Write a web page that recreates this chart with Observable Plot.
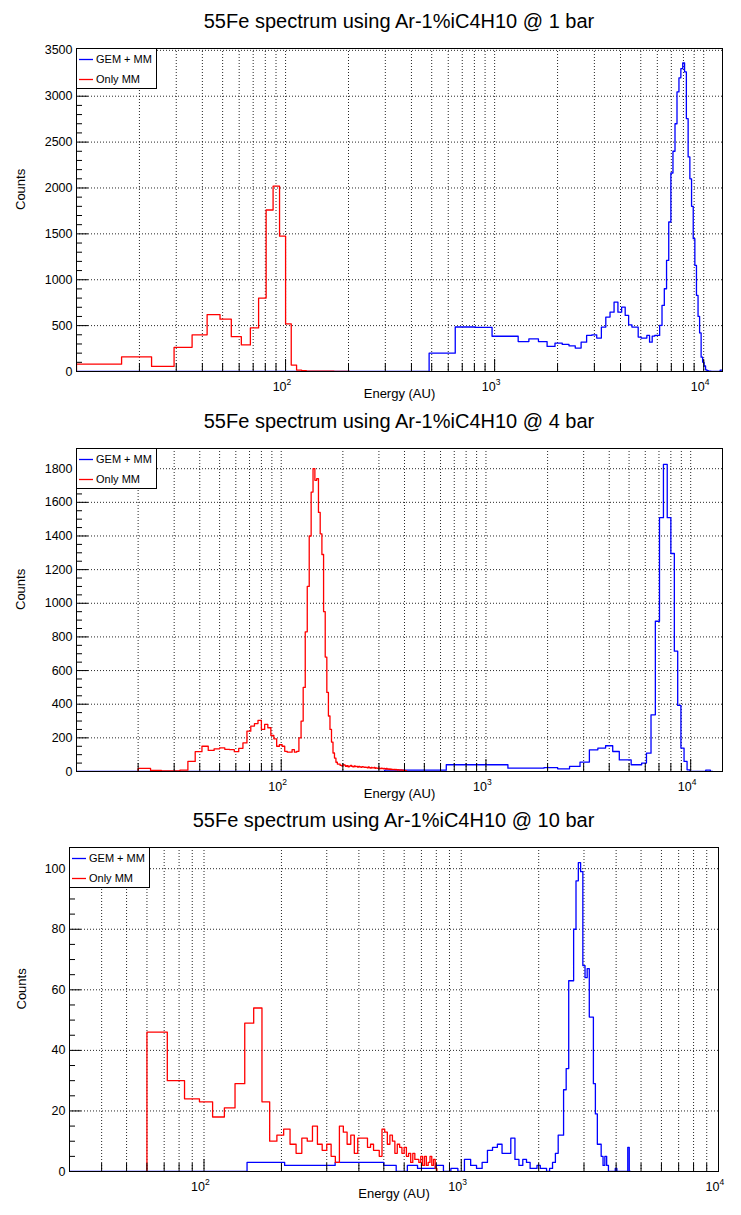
<!DOCTYPE html>
<html>
<head>
<meta charset="utf-8">
<title>55Fe spectra in Ar-1%iC4H10</title>
<script src="https://cdn.jsdelivr.net/npm/d3@7"></script>
<script src="https://cdn.jsdelivr.net/npm/@observablehq/plot@0.6"></script>
<style>
  html, body { margin: 0; padding: 0; background: #fff; }
  #page { position: relative; width: 741px; height: 1215px; overflow: hidden; background: #fff;
          font-family: "Liberation Sans", Arial, Helvetica, sans-serif; color: #000; }
  .title { position: absolute; font-size: 20px; line-height: 20px; text-align: center; white-space: nowrap; }
  .plot { position: absolute; left: 0; }
  .legend { position: absolute; z-index: 2; display: block; }
</style>
</head>
<body>
<div id="page"></div>
<script>
// ---- shared text ----
const seriesNames = ["GEM + MM", "Only MM"];
const xLabel = "Energy (AU)";
const yLabel = "Counts";
const decadeTicks = [100, 1000, 10000];
const decadeExponents = ["2", "3", "4"];

// ---- 1 bar ----
const bar1Title = "55Fe spectrum using Ar-1%iC4H10 @ 1 bar";
const bar1XRange = [10, 12300];
const bar1YRange = [0, 3520];
const bar1YTicks = [0, 500, 1000, 1500, 2000, 2500, 3000, 3500];
const bar1YMinorStep = 100;
const bar1GemStart = 0;
const bar1GemWidth = 162;
const bar1GemCounts = [
  0, 0, 0, 200, 485, 480, 384, 384, 326, 355,
  326, 273, 309, 295, 280, 255, 320, 393, 400, 364,
  484, 593, 647, 756, 647, 702, 611, 509, 484, 484,
  375, 364, 364, 393, 320, 385, 393, 393, 502, 720,
  902, 1211, 1629, 2163, 2400, 2700, 3047, 3200, 3300, 3363,
  3265, 2756, 2338, 2100, 1800, 1447, 1156, 829, 600, 420,
  156, 102, 60, 18, 8, 5, 3, 2, 0, 0,
  0, 0, 0, 0, 15, 15
];
const bar1MmStart = 10;
const bar1MmWidth = 6.43;
const bar1MmCounts = [
  80, 160, 55, 263, 400, 620, 570, 380, 290, 475,
  800, 1760, 2020, 1475, 520, 70, 15, 8, 5, 5,
  4, 4, 3, 3, 3, 2, 2, 2, 2, 1
];

// ---- 4 bar ----
const bar4Title = "55Fe spectrum using Ar-1%iC4H10 @ 4 bar";
const bar4XRange = [10, 14300];
const bar4YRange = [0, 1920];
const bar4YTicks = [0, 200, 400, 600, 800, 1000, 1200, 1400, 1600, 1800];
const bar4YMinorStep = 50;
const bar4GemStart = 0;
const bar4GemWidth = 320;
const bar4GemCounts = [
  0, 8, 40, 40, 20, 20, 23, 16, 30, 56,
  129, 139, 153, 119, 69, 69, 40, 40, 50, 109,
  337, 893, 1509, 1826, 1509, 1296, 715, 393, 139, 60,
  10, 0, 0, 0, 0, 0, 0, 8, 8, 0
];
const bar4MmStart = 20;
const bar4MmWidth = 3;
const bar4MmCounts = [
  18, 6, 3, 3, 8, 60, 118, 150, 125, 135,
  140, 132, 130, 118, 138, 170, 240, 270, 285, 304,
  250, 280, 260, 214, 194, 150, 160, 150, 120, 115,
  115, 130, 115, 120, 200, 300, 500, 830, 1100, 1400,
  1661, 1800, 1731, 1741, 1540, 1413, 1290, 950, 680, 470,
  330, 250, 175, 110, 80, 55, 44, 44, 36, 34,
  40, 38, 30, 35, 28, 32, 36, 30, 27, 33,
  29, 31, 26, 30, 28, 25, 29, 27, 24, 26,
  25, 22, 27, 23, 20, 24, 22, 21, 25, 19,
  22, 20, 18, 21, 19, 17, 20, 18, 16, 19,
  17, 15, 18, 14, 16, 13, 15, 12, 14, 12,
  13, 11, 12, 10, 12, 11, 9, 11, 10, 9,
  10, 8, 9, 8, 7, 8, 6, 7, 5, 4
];

// ---- 10 bar ----
const bar10Title = "55Fe spectrum using Ar-1%iC4H10 @ 10 bar";
const bar10XRange = [30, 10000];
const bar10YRange = [0, 107];
const bar10YTicks = [0, 20, 40, 60, 80, 100];
const bar10YMinorStep = 5;
const bar10GemStart = 29.4;
const bar10GemWidth = 58.8;
const bar10GemCounts = [
  0, 0, 3, 2, 2, 3, 3, 3, 2, 0,
  2, 1, 1, 2, 0, 1, 0, 4, 2, 1,
  3, 7, 8, 9, 6, 6, 11, 4, 2, 4,
  3, 1, 1, 2, 1, 1, 0, 1, 3, 6,
  12, 12, 27, 34, 63, 63, 80, 96, 102, 99,
  68, 64, 67, 51, 51, 29, 19, 9, 9, 5,
  2, 5, 2, 0, 0, 0, 0, 1, 0, 0,
  0, 0, 0, 0, 0, 8, 0
];
const bar10MmStart = 60;
const bar10MmWidth = 12;
const bar10MmCounts = [
  46, 30, 24, 23, 18, 21, 29, 49, 54, 23,
  10, 12, 14, 9, 6, 11, 10, 15, 9, 7,
  9, 5, 3, 15, 13, 9, 12, 6, 11, 11,
  11, 8, 9, 7, 7, 5, 14, 13, 9, 12,
  10, 6, 9, 8, 6, 8, 5, 6, 3, 6,
  4, 4, 3, 5, 2, 5, 2, 3, 5, 2,
  4, 1
];

// ---- drawing ----
const PAGE_W = 741;
const FONT = "'Liberation Sans', Arial, Helvetica, sans-serif";
const COLORS = ["#0000ff", "#ff0000"];

// Outline of a fixed-width histogram as step points, edges kept inside the axis range.
function histOutline(start, width, counts, [lo, hi]) {
  const edge = k => Math.min(hi, Math.max(lo, start + k * width));
  const n = counts.length;
  const pts = [{x: edge(0), y: 0}];
  counts.forEach((c, k) => pts.push({x: edge(k), y: c}));
  pts.push({x: edge(n), y: counts[n - 1]}, {x: edge(n), y: 0});
  return pts;
}

// 1..9 x 10^n positions inside a log range
function logTicks([lo, hi]) {
  const out = [];
  for (let e = Math.floor(Math.log10(lo)); e <= Math.ceil(Math.log10(hi)); e++) {
    for (let m = 1; m <= 9; m++) {
      const v = m * Math.pow(10, e);
      if (v >= lo * 0.9999 && v <= hi * 1.0001) out.push(v);
    }
  }
  return out;
}
const isDecade = v => Math.abs(Math.log10(v) - Math.round(Math.log10(v))) < 1e-9;

// Small boxed legend: a line sample and a name per series
function legendBox(left, top) {
  const w = 81, h = 41;
  const svg = d3.create("svg")
    .attr("class", "legend")
    .attr("width", w).attr("height", h)
    .style("left", left + "px").style("top", top + "px");
  svg.append("rect")
    .attr("x", 0.5).attr("y", 0.5).attr("width", w - 1).attr("height", h - 1)
    .attr("fill", "#fff").attr("stroke", "#000").attr("stroke-width", 1);
  seriesNames.forEach((name, i) => {
    const cy = 11.5 + i * 20;
    svg.append("line")
      .attr("x1", 3).attr("x2", 17).attr("y1", cy).attr("y2", cy)
      .attr("stroke", COLORS[i]).attr("stroke-width", 1.3);
    svg.append("text")
      .attr("x", 20).attr("y", cy + 3.8)
      .attr("font-family", FONT).attr("font-size", 11).attr("fill", "#000")
      .text(name);
  });
  return svg.node();
}

function drawPanel(p) {
  const page = document.getElementById("page");
  const [mt, mr, mb, ml] = p.margins;
  const frameW = PAGE_W - ml - mr;
  const frameH = p.height - mt - mb;
  const [lo, hi] = p.xRange;

  const xt = logTicks(p.xRange);
  const xGrid = xt.filter(v => v > lo * 1.0001 && v < hi * 0.9999);
  const xMajor = xt.filter(isDecade);
  const xMinor = xt.filter(v => !isDecade(v));
  const xLabels = decadeTicks
    .map((v, i) => ({v, e: decadeExponents[i]}))
    .filter(d => d.v >= lo * 0.9999 && d.v <= hi * 1.0001);
  const yMinor = d3.range(p.yRange[0], p.yRange[1], p.yMinorStep).filter(v => !p.yTicks.includes(v));
  const yGrid = p.yTicks.filter(v => v > p.yRange[0]);

  const gem = histOutline(p.gem.start, p.gem.width, p.gem.counts, p.xRange);
  const mm = histOutline(p.mm.start, p.mm.width, p.mm.counts, p.xRange);

  const dotted = {stroke: "#000", strokeWidth: 1, strokeDasharray: "1,2", strokeOpacity: 0.85};

  const chart = Plot.plot({
    width: PAGE_W,
    height: p.height,
    marginTop: mt, marginRight: mr, marginBottom: mb, marginLeft: ml,
    style: {fontFamily: FONT, background: "#fff", color: "#000", overflow: "visible"},
    x: {type: "log", domain: p.xRange, axis: null},
    y: {domain: p.yRange, axis: null},
    marks: [
      Plot.ruleX(xGrid, {x: d => d, ...dotted}),
      Plot.ruleY(yGrid, {y: d => d, ...dotted}),
      Plot.line(gem, {x: "x", y: "y", curve: "step-after", stroke: COLORS[0], strokeWidth: 1.3, clip: true}),
      Plot.line(mm, {x: "x", y: "y", curve: "step-after", stroke: COLORS[1], strokeWidth: 1.3, clip: true}),
      Plot.tickX(xMajor, {x: d => d, insetTop: frameH - 12, stroke: "#000"}),
      Plot.tickX(xMinor, {x: d => d, insetTop: frameH - 8, stroke: "#000"}),
      Plot.tickY(p.yTicks, {y: d => d, insetRight: frameW - 12, stroke: "#000"}),
      Plot.tickY(yMinor, {y: d => d, insetRight: frameW - 6, stroke: "#000"}),
      Plot.frame({stroke: "#000", strokeWidth: 1}),
      Plot.text(p.yTicks, {y: d => d, text: d => String(d), frameAnchor: "left", textAnchor: "end",
                           dx: -4, fontSize: 12.5, fill: "#000"}),
      Plot.text(xLabels, {x: "v", text: () => "10", frameAnchor: "bottom", textAnchor: "end",
                          lineAnchor: "bottom", dx: 1, dy: 19, fontSize: 12.5, fill: "#000"}),
      Plot.text(xLabels, {x: "v", text: "e", frameAnchor: "bottom", textAnchor: "start",
                          lineAnchor: "bottom", dx: 1, dy: 13, fontSize: 8.5, fill: "#000"}),
      Plot.text([xLabel], {text: d => d, frameAnchor: "bottom", lineAnchor: "bottom",
                           dy: 26, fontSize: 13, fill: "#000"}),
      Plot.text([yLabel], {text: d => d, frameAnchor: "left", lineAnchor: "bottom", rotate: -90,
                           dx: p.yLabelX - ml, fontSize: 13, fill: "#000"})
    ]
  });
  chart.classList.add("plot");
  chart.style.top = p.top + "px";
  page.append(chart);

  // title, centred over the frame
  const title = document.createElement("div");
  title.className = "title";
  title.textContent = p.title;
  Object.assign(title.style, {left: ml + "px", width: frameW + "px", top: (p.titleBaseline - 17) + "px"});
  page.append(title);

  // legend in the top-left corner of the frame
  page.append(legendBox(ml, p.top + mt));
}

drawPanel({
  title: bar1Title, titleBaseline: 28, top: 30, height: 375, margins: [18, 19, 34, 76], yLabelX: 24,
  xRange: bar1XRange, yRange: bar1YRange, yTicks: bar1YTicks, yMinorStep: bar1YMinorStep,
  gem: {start: bar1GemStart, width: bar1GemWidth, counts: bar1GemCounts},
  mm: {start: bar1MmStart, width: bar1MmWidth, counts: bar1MmCounts}
});
drawPanel({
  title: bar4Title, titleBaseline: 428, top: 435, height: 370, margins: [13, 19, 34, 76], yLabelX: 24,
  xRange: bar4XRange, yRange: bar4YRange, yTicks: bar4YTicks, yMinorStep: bar4YMinorStep,
  gem: {start: bar4GemStart, width: bar4GemWidth, counts: bar4GemCounts},
  mm: {start: bar4MmStart, width: bar4MmWidth, counts: bar4MmCounts}
});
drawPanel({
  title: bar10Title, titleBaseline: 827, top: 835, height: 375, margins: [12, 23, 39, 69], yLabelX: 25,
  xRange: bar10XRange, yRange: bar10YRange, yTicks: bar10YTicks, yMinorStep: bar10YMinorStep,
  gem: {start: bar10GemStart, width: bar10GemWidth, counts: bar10GemCounts},
  mm: {start: bar10MmStart, width: bar10MmWidth, counts: bar10MmCounts}
});
</script>
</body>
</html>
